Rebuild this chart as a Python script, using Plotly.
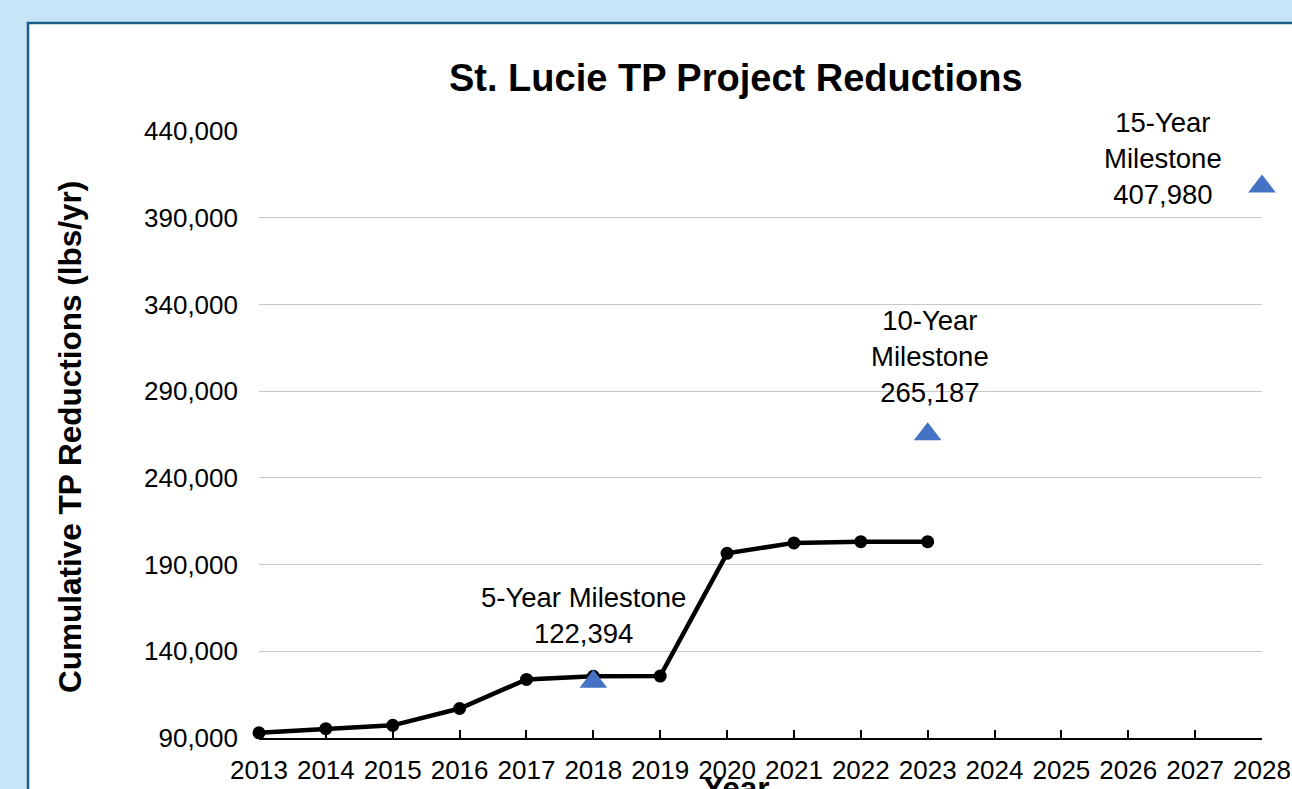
import plotly.graph_objects as go

years = [2013, 2014, 2015, 2016, 2017, 2018, 2019, 2020, 2021, 2022, 2023]
reductions = [93000, 95400, 97300, 107000, 123800, 125600, 125700, 196500, 202500, 203200, 203200]

milestone_years = [2018, 2023, 2028]
milestone_values = [122394, 265187, 407980]
milestone_labels = ["5-Year Milestone<br>122,394", "10-Year<br>Milestone<br>265,187", "15-Year<br>Milestone<br>407,980"]
label_pos_x = [2017.86, 2023.03, 2026.52]
label_pos_y = [160900, 309700, 423900]

x_ticks = list(range(2013, 2029))
y_ticks = list(range(90000, 440001, 50000))

W, H = 1292, 789
L, R, T, B = 259, 30, 131, 51
pw, ph = W - L - R, H - T - B

FONT = "Liberation Sans, Arial, sans-serif"

fig = go.Figure()
fig.add_trace(go.Scatter(
    x=years, y=reductions, mode="lines+markers",
    line=dict(color="black", width=4.5),
    marker=dict(color="black", size=13),
    cliponaxis=False, showlegend=False, hoverinfo="x+y"))
fig.add_trace(go.Scatter(
    x=milestone_years, y=milestone_values, mode="markers",
    marker=dict(symbol="triangle-up", color="#4472C4", size=24),
    cliponaxis=False, showlegend=False, hoverinfo="x+y"))

for lx, ly, txt in zip(label_pos_x, label_pos_y, milestone_labels):
    fig.add_annotation(x=lx, y=ly, text=txt, showarrow=False,
                       xanchor="center", yanchor="middle",
                       font=dict(family=FONT, size=27.5, color="black"))

def px(x):
    return (x - L) / pw

def py(y):
    return (H - B - y) / ph

# white panel with dark blue border
fig.add_shape(type="rect", xref="paper", yref="paper",
              x0=px(28), x1=px(1400), y0=py(900), y1=py(23),
              fillcolor="white", line=dict(color="#1B5E85", width=2.5),
              layer="below")

fig.add_annotation(xref="paper", yref="paper", x=px(736), y=py(78),
                   text="<b>St. Lucie TP Project Reductions</b>", showarrow=False,
                   xanchor="center", yanchor="middle",
                   font=dict(family=FONT, size=38, color="black"))
fig.add_annotation(xref="paper", yref="paper", x=px(70), y=py(437),
                   text="<b>Cumulative TP Reductions (lbs/yr)</b>", showarrow=False,
                   textangle=-90, xanchor="center", yanchor="middle",
                   font=dict(family=FONT, size=31.5, color="black"))
fig.add_annotation(xref="paper", yref="paper", x=px(736), y=py(768),
                   text="<b>Year</b>", showarrow=False,
                   xanchor="center", yanchor="top",
                   font=dict(family=FONT, size=31.5, color="black"))

fig.update_xaxes(range=[2013, 2028], tickvals=x_ticks, ticktext=[str(v) for v in x_ticks],
                 showgrid=False, zeroline=False, showline=True, linecolor="black", linewidth=2,
                 ticks="inside", ticklen=8, tickwidth=1.5, tickcolor="black",
                 ticklabelstandoff=8,
                 tickfont=dict(family=FONT, size=26, color="black"))
fig.update_yaxes(range=[90000, 440000], tickvals=y_ticks,
                 ticktext=[f"{v:,}" for v in y_ticks],
                 showgrid=True, gridcolor="#C8C8C8", gridwidth=1, zeroline=False,
                 showline=False, ticks="", ticklabelstandoff=20,
                 tickfont=dict(family=FONT, size=26, color="black"))

fig.update_layout(width=W, height=H, margin=dict(l=L, r=R, t=T, b=B, autoexpand=False),
                  paper_bgcolor="#C6E6F8", plot_bgcolor="white", showlegend=False)

fig.write_html("out.html", config={"displayModeBar": False},
               post_script="document.body.style.margin='0';document.body.style.padding='0';document.body.style.overflow='hidden';")
